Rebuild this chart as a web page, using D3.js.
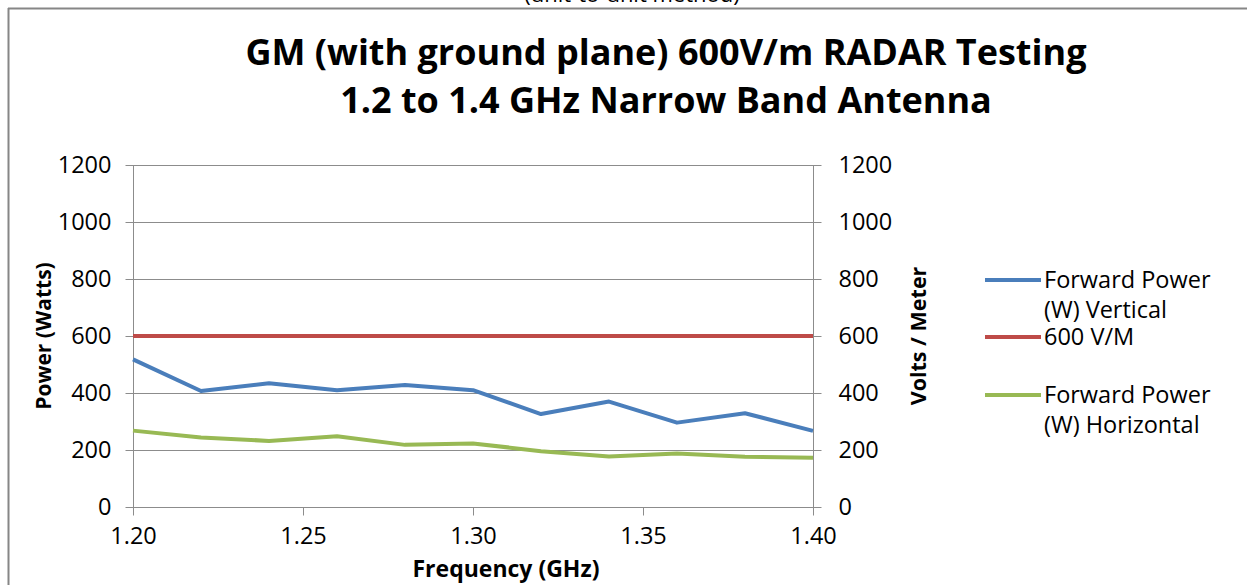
<!DOCTYPE html>
<html>
<head>
<meta charset="utf-8">
<script src="https://cdn.jsdelivr.net/npm/d3@7"></script>
<style>
  body { margin: 0; background: #fff; }
  svg { display: block; font-family: "Open Sans", sans-serif; }
  .axis path, .axis line { stroke: #8c8c8c; }
  .axis text { fill: #000; font-size: 23.5px; font-family: "Open Sans", sans-serif; }
</style>
</head>
<body>
<div id="chart"></div>
<script>
const frequencies = [1.20, 1.22, 1.24, 1.26, 1.28, 1.30, 1.32, 1.34, 1.36, 1.38, 1.40];
const forwardVertical = [518, 407, 434, 410, 428, 410, 326, 370, 296, 329, 267];
const limit600 = [600, 600, 600, 600, 600, 600, 600, 600, 600, 600, 600];
const forwardHorizontal = [268, 244, 232, 248, 218, 223, 196, 177, 188, 176, 173];
const xTicks = [1.20, 1.25, 1.30, 1.35, 1.40];
const yTicks = [0, 200, 400, 600, 800, 1000, 1200];

const series = [
  {name: ['Forward Power', '(W) Vertical'], values: forwardVertical, color: '#4a7ebb'},
  {name: ['600 V/M'], values: limit600, color: '#be4b48'},
  {name: ['Forward Power', '(W) Horizontal'], values: forwardHorizontal, color: '#98b954'}
];

const width = 1247, height = 585;
const plot = {left: 133, right: 813, top: 165, bottom: 507};

const svg = d3.select('#chart').append('svg')
  .attr('width', width)
  .attr('height', height);

// frame of the embedded chart object
svg.append('line')
  .attr('x1', 8).attr('x2', width).attr('y1', 8.5).attr('y2', 8.5)
  .attr('stroke', '#868686').attr('stroke-width', 2);
svg.append('line')
  .attr('x1', 8.5).attr('x2', 8.5).attr('y1', 8).attr('y2', height)
  .attr('stroke', '#868686').attr('stroke-width', 2);

// caption of the page, mostly above the picture
svg.append('text')
  .attr('x', 632).attr('y', 2)
  .attr('text-anchor', 'middle')
  .attr('font-size', 22)
  .text('(unit-to-unit method)');

const x = d3.scaleLinear().domain([1.2, 1.4]).range([plot.left, plot.right]);
const y = d3.scaleLinear().domain([0, 1200]).range([plot.bottom, plot.top]);

// grid
svg.append('g')
  .selectAll('line')
  .data(yTicks.filter((d) => d > 0))
  .join('line')
  .attr('x1', plot.left).attr('x2', plot.right)
  .attr('y1', (d) => Math.round(y(d)) + 0.5).attr('y2', (d) => Math.round(y(d)) + 0.5)
  .attr('stroke', '#8c8c8c');

// axes
svg.append('g')
  .attr('class', 'axis')
  .attr('transform', `translate(0,${plot.bottom + 0.5})`)
  .call(d3.axisBottom(x).tickValues(xTicks).tickSize(8).tickPadding(12).tickFormat(d3.format('.2f')))
  .call((g) => g.select('.domain').attr('d', `M${plot.left},0H${plot.right}`));

svg.append('g')
  .attr('class', 'axis')
  .attr('transform', `translate(${plot.left + 0.5},0)`)
  .call(d3.axisLeft(y).tickValues(yTicks).tickSize(8).tickPadding(14).tickFormat(d3.format('d')))
  .call((g) => g.select('.domain').attr('d', `M0,${plot.top}V${plot.bottom}`));

const right = svg.append('g')
  .attr('class', 'axis')
  .attr('transform', `translate(${plot.right + 0.5},0)`)
  .call(d3.axisRight(y).tickValues(yTicks).tickSize(8).tickPadding(17).tickFormat(d3.format('d')))
  .call((g) => g.select('.domain').attr('d', `M0,${plot.top}V${plot.bottom}`));
right.selectAll('.tick line').attr('x1', -8);

// lines
const line = d3.line()
  .x((d, i) => x(frequencies[i]))
  .y((d) => y(d));

svg.append('g')
  .selectAll('path')
  .data(series)
  .join('path')
  .attr('d', (d) => line(d.values))
  .attr('fill', 'none')
  .attr('stroke', (d) => d.color)
  .attr('stroke-width', 4)
  .attr('stroke-linejoin', 'round');

// titles
svg.append('text')
  .attr('text-anchor', 'middle')
  .attr('font-size', 36).attr('font-weight', 'bold')
  .selectAll('tspan')
  .data(['GM (with ground plane) 600V/m RADAR Testing', '1.2 to 1.4 GHz Narrow Band Antenna'])
  .join('tspan')
  .attr('x', 666)
  .attr('y', (d, i) => 65 + i * 48)
  .text((d) => d);

svg.append('text')
  .attr('transform', `translate(51,${(plot.top + plot.bottom) / 2}) rotate(-90)`)
  .attr('text-anchor', 'middle')
  .attr('font-size', 21).attr('font-weight', 'bold')
  .text('Power (Watts)');

svg.append('text')
  .attr('transform', `translate(926,${(plot.top + plot.bottom) / 2}) rotate(-90)`)
  .attr('text-anchor', 'middle')
  .attr('font-size', 21.5).attr('font-weight', 'bold')
  .text('Volts / Meter');

svg.append('text')
  .attr('x', 506).attr('y', 577)
  .attr('text-anchor', 'middle')
  .attr('font-size', 23).attr('font-weight', 'bold')
  .text('Frequency (GHz)');

// legend
const legendY = [280, 337, 395];
const legend = svg.append('g')
  .selectAll('g')
  .data(series)
  .join('g')
  .attr('transform', (d, i) => `translate(985,${legendY[i]})`);

legend.append('line')
  .attr('x1', 0).attr('x2', 56)
  .attr('stroke', (d) => d.color)
  .attr('stroke-width', 4);

legend.append('text')
  .attr('font-size', 23.5)
  .selectAll('tspan')
  .data((d) => d.name)
  .join('tspan')
  .attr('x', 59)
  .attr('y', (d, i) => 8 + i * 30)
  .text((d) => d);
</script>
</body>
</html>
